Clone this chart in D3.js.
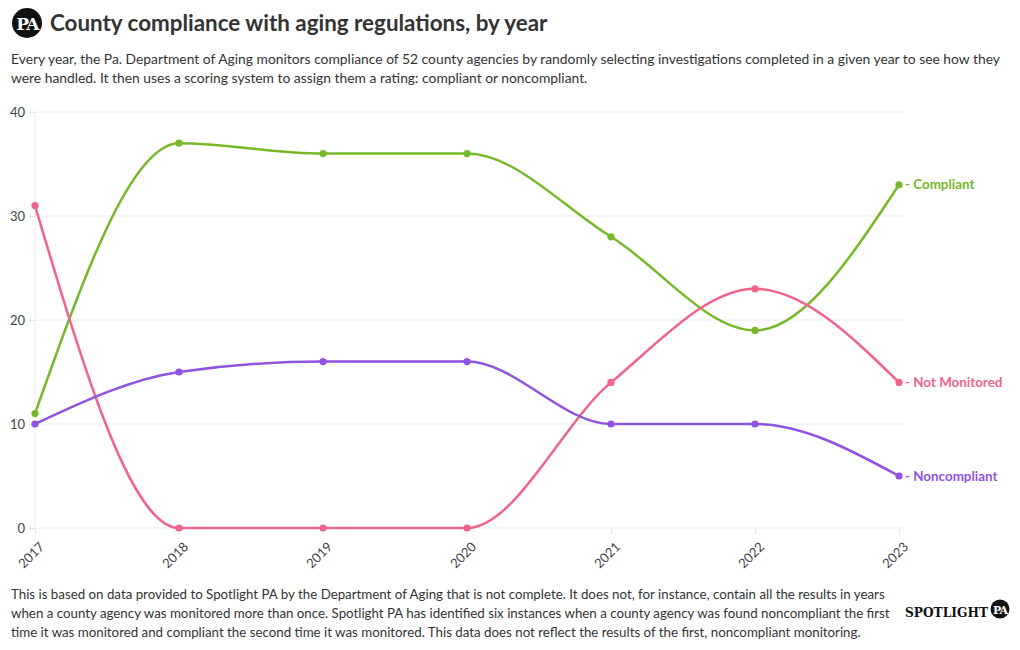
<!DOCTYPE html>
<html><head><meta charset="utf-8">
<script src="https://cdn.jsdelivr.net/npm/d3@7"></script>
<style>
body{margin:0;background:#fff;font-family:"Source Sans Pro",Lato,"Open Sans",sans-serif;}
svg{display:block}
</style></head><body>
<svg id="c" width="1020" height="650"></svg>
<script>
const years = ["2017","2018","2019","2020","2021","2022","2023"];
const compliant = [11,37,36,36,28,19,33];
const notMonitored = [31,0,0,0,14,23,14];
const noncompliant = [10,15,16,16,10,10,5];
const yTicks = [0,10,20,30,40];
const seriesNames = ["Compliant","Not Monitored","Noncompliant"];
const seriesColors = ["#77b82a","#f0648a","#9052e0"];
const title = "County compliance with aging regulations, by year";
const subtitle = ["Every year, the Pa. Department of Aging monitors compliance of 52 county agencies by randomly selecting investigations completed in a given year to see how they","were handled. It then uses a scoring system to assign them a rating: compliant or noncompliant."];
const footer = ["This is based on data provided to Spotlight PA by the Department of Aging that is not complete. It does not, for instance, contain all the results in years","when a county agency was monitored more than once. Spotlight PA has identified six instances when a county agency was found noncompliant the first","time it was monitored and compliant the second time it was monitored. This data does not reflect the results of the first, noncompliant monitoring."];

const svg = d3.select("#c");
const font = '"Source Sans Pro",Lato,"Open Sans",sans-serif';

// header
svg.append("circle").attr("cx",27).attr("cy",23).attr("r",15).attr("fill","#111");
svg.append("text").attr("x",27).attr("y",30).attr("text-anchor","middle")
  .attr("font-family","DejaVu Serif,serif").attr("font-weight","bold").attr("font-size",17)
  .attr("fill","#fff").attr("letter-spacing",-1.5).text("PA");
svg.append("text").attr("x",50).attr("y",31).attr("font-family",font).attr("font-weight","bold")
  .attr("font-size",22.4).attr("fill","#333").text(title);
subtitle.forEach((s,i)=>svg.append("text").attr("x",11).attr("y",64+i*19).attr("font-family",font)
  .attr("font-size",13.85).attr("fill","#333").text(s));
footer.forEach((s,i)=>svg.append("text").attr("x",11).attr("y",599+i*19).attr("font-family",font)
  .attr("font-size",13.3).attr("fill","#333").text(s));

// spotlight logo
svg.append("text").attr("x",905).attr("y",617).attr("font-family","DejaVu Serif,serif").attr("font-weight","bold")
  .attr("font-size",13).attr("fill","#111").attr("textLength",83).attr("lengthAdjust","spacingAndGlyphs").text("SPOTLIGHT");
svg.append("circle").attr("cx",1000).attr("cy",609).attr("r",9.5).attr("fill","#111");
svg.append("text").attr("x",1000).attr("y",613.5).attr("text-anchor","middle").attr("font-family","DejaVu Serif,serif")
  .attr("font-weight","bold").attr("font-size",11).attr("fill","#fff").attr("letter-spacing",-1).text("PA");

const x = d3.scalePoint().domain(years).range([35,899]);
const y = d3.scaleLinear().domain([0,40]).range([528,112]);

const g = svg.append("g");
// gridlines
g.selectAll("line.grid").data(yTicks).join("line").attr("x1",35).attr("x2",902)
  .attr("y1",d=>y(d)).attr("y2",d=>y(d)).attr("stroke","#ebebeb").attr("stroke-width",1);
g.append("line").attr("x1",35).attr("x2",35).attr("y1",112).attr("y2",528).attr("stroke","#ebebeb");

const yAxis = g.append("g").attr("transform","translate(35,0)")
  .call(d3.axisLeft(y).tickValues(yTicks).tickSize(6).tickPadding(4));
yAxis.select(".domain").remove();
yAxis.selectAll("line").attr("stroke","#e6e6e6");
yAxis.selectAll("text").attr("font-family",font).attr("font-size",13).attr("fill","#444");

const xAxis = g.append("g").attr("transform","translate(0,528)")
  .call(d3.axisBottom(x).tickSize(6).tickPadding(4));
xAxis.select(".domain").remove();
xAxis.selectAll("line").attr("stroke","#e6e6e6");
xAxis.selectAll("text").attr("font-family",font).attr("font-size",13).attr("fill","#444")
  .attr("text-anchor","end").attr("dx","-0.55em").attr("dy","0.82em").attr("transform","rotate(-45)");

const data = [compliant, notMonitored, noncompliant];
const line = d3.line().x((d,i)=>x(years[i])).y(d=>y(d)).curve(d3.curveMonotoneX);
data.forEach((vals,k)=>{
  const col = seriesColors[k];
  g.append("path").attr("d",line(vals)).attr("fill","none").attr("stroke",col).attr("stroke-width",2.5);
  g.selectAll(null).data(vals).join("circle").attr("cx",(d,i)=>x(years[i])).attr("cy",d=>y(d))
    .attr("r",3.6).attr("fill",col);
  const last = vals[vals.length-1];
  g.append("text").attr("x",x(years[years.length-1])+6).attr("y",y(last)).attr("dy","0.35em")
    .attr("font-family",font).attr("font-size",13.4).attr("font-weight","bold").attr("fill",col)
    .text("- "+seriesNames[k]);
});
</script>
</body></html>
